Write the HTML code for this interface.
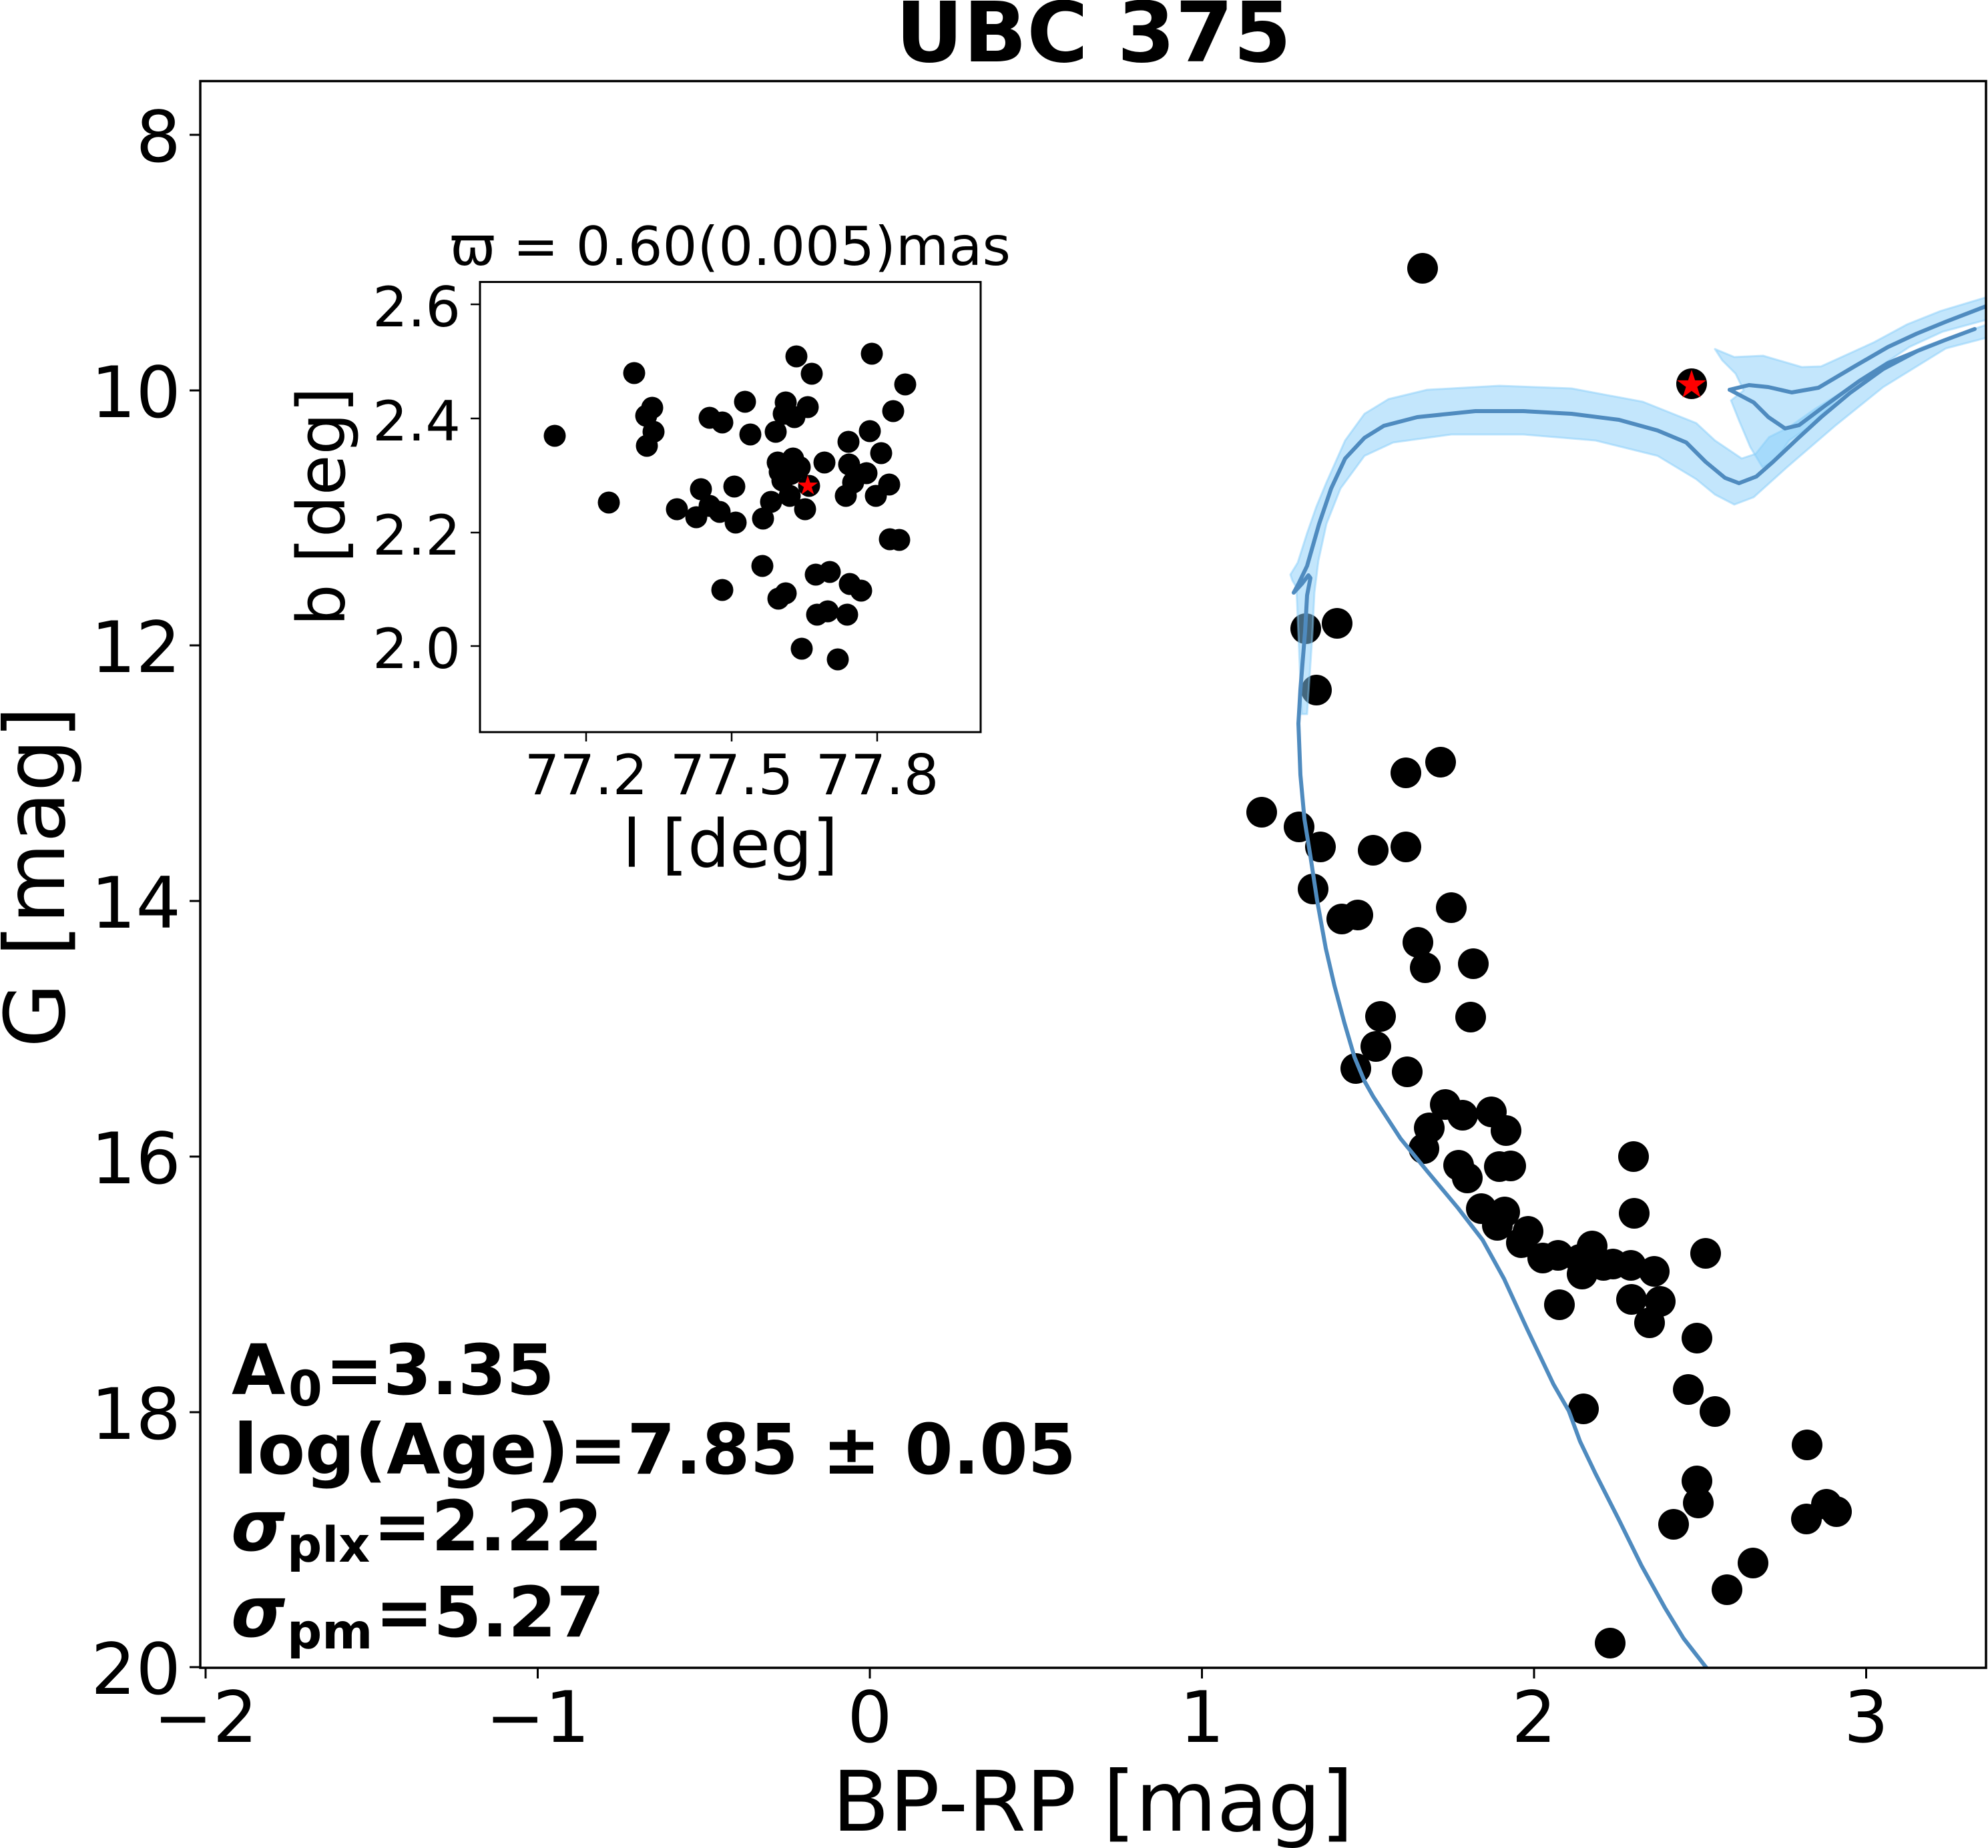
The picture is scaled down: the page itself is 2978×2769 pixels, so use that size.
<!DOCTYPE html>
<html><head><meta charset="utf-8"><style>
html,body{margin:0;padding:0;background:#fff;}
svg{display:block;}
text{font-family:"DejaVu Sans","Liberation Sans",sans-serif;fill:#000;}
</style></head><body>
<svg width="2978" height="2769" viewBox="0 0 2978 2769" xmlns="http://www.w3.org/2000/svg">
<defs>
<clipPath id="cm"><rect x="300" y="121.5" width="2675" height="2377.5"/></clipPath>
</defs>
<rect width="2978" height="2769" fill="#fff"/>

<!-- Title -->
<text x="1638" y="92" font-size="125" font-weight="bold" text-anchor="middle">UBC 375</text>

<!-- Main scatter -->
<g clip-path="url(#cm)" fill="#000">
<circle cx="2131" cy="402" r="23"/><circle cx="2534" cy="575" r="23"/>
<circle cx="1956" cy="942" r="23"/><circle cx="2003" cy="934" r="23"/><circle cx="1972" cy="1034" r="23"/>
<circle cx="2106" cy="1158" r="23"/><circle cx="2158" cy="1142" r="23"/><circle cx="1890" cy="1217" r="23"/>
<circle cx="1946" cy="1239" r="23"/><circle cx="1978" cy="1269" r="23"/><circle cx="2057" cy="1274" r="23"/>
<circle cx="2106" cy="1269" r="23"/><circle cx="1967" cy="1332" r="23"/><circle cx="2010" cy="1377" r="23"/>
<circle cx="2034" cy="1371" r="23"/><circle cx="2174" cy="1360" r="23"/><circle cx="2124" cy="1412" r="23"/>
<circle cx="2135" cy="1450" r="23"/><circle cx="2207" cy="1444" r="23"/><circle cx="2068" cy="1523" r="23"/>
<circle cx="2203" cy="1524" r="23"/><circle cx="2061" cy="1568" r="23"/><circle cx="2031" cy="1601" r="23"/>
<circle cx="2108" cy="1606" r="23"/><circle cx="2165" cy="1655" r="23"/><circle cx="2191" cy="1671" r="23"/>
<circle cx="2234" cy="1666" r="23"/><circle cx="2256" cy="1694" r="23"/><circle cx="2141" cy="1690" r="23"/>
<circle cx="2133" cy="1721" r="23"/><circle cx="2185" cy="1746" r="23"/><circle cx="2198" cy="1765" r="23"/>
<circle cx="2246" cy="1748" r="23"/><circle cx="2263" cy="1747" r="23"/><circle cx="2447" cy="1733" r="23"/>
<circle cx="2448" cy="1818" r="23"/><circle cx="2219" cy="1811" r="23"/><circle cx="2254" cy="1816" r="23"/>
<circle cx="2243" cy="1836" r="23"/><circle cx="2289" cy="1845" r="23"/><circle cx="2279" cy="1862" r="23"/>
<circle cx="2311" cy="1885" r="23"/><circle cx="2334" cy="1881" r="23"/><circle cx="2385" cy="1867" r="23"/>
<circle cx="2370" cy="1909" r="23"/><circle cx="2367" cy="1887" r="23"/><circle cx="2402" cy="1896" r="23"/>
<circle cx="2416" cy="1894" r="23"/><circle cx="2443" cy="1896" r="23"/><circle cx="2478" cy="1905" r="23"/>
<circle cx="2555" cy="1878" r="23"/><circle cx="2336" cy="1955" r="23"/><circle cx="2444" cy="1947" r="23"/>
<circle cx="2487" cy="1950" r="23"/><circle cx="2471" cy="1982" r="23"/><circle cx="2542" cy="2005" r="23"/>
<circle cx="2529" cy="2082" r="23"/><circle cx="2569" cy="2115" r="23"/><circle cx="2372" cy="2111" r="23"/>
<circle cx="2707" cy="2165" r="23"/><circle cx="2542" cy="2219" r="23"/><circle cx="2544" cy="2252" r="23"/>
<circle cx="2507" cy="2284" r="23"/><circle cx="2736" cy="2254" r="23"/><circle cx="2751" cy="2265" r="23"/>
<circle cx="2706" cy="2276" r="23"/><circle cx="2626" cy="2342" r="23"/><circle cx="2587" cy="2382" r="23"/>
<circle cx="2412" cy="2462" r="23"/>
</g>

<!-- Isochrone band -->
<g clip-path="url(#cm)" fill="#87cefa" fill-opacity="0.5" stroke="#87cefa" stroke-opacity="0.5" stroke-width="3" stroke-linejoin="round">
<polygon points="1933,861 1944,843 1958,799 1972,759 1987,723 2015,660 2044,620 2080,598 2138,584 2246,578 2354,582 2461,602 2541,634 2569,660 2609,687 2630,680 2650,655 2680,640 2720,612 2780,575 2830,545 2880,520 2980,485 2980,505 2915,522 2821,580 2749,638 2677,700 2627,745 2598,756 2569,741 2541,718 2483,683 2390,660 2282,651 2174,651 2087,663 2044,683 2008,732 1987,785 1975,840 1969,888 1966,950 1958,1070 1950,1070 1945,950 1942,880 1936,870"/>
<polygon points="2569,523 2598,535 2641,533 2699,550 2728,549 2807,513 2857,486 2907,466 2980,444 2980,478 2910,497 2860,520 2800,560 2750,600 2710,640 2680,660 2660,690 2640,700 2622,670 2605,630 2593,600 2612,585 2600,560 2580,540"/>
</g>

<!-- Isochrone lines -->
<g clip-path="url(#cm)" fill="none" stroke="#4f8bbf" stroke-width="6" stroke-linejoin="round" stroke-linecap="round">
<polyline points="2580,2530 2557,2500 2522,2455 2494,2409 2459,2346 2425,2277 2390,2208 2367,2160 2350,2114 2327,2074 2287,1990 2253,1916 2221,1858 2184,1810 2138,1755 2098,1706 2057,1643 2044,1620 2029,1584 2014,1533 1999,1477 1986,1421 1973,1349 1963,1283 1954,1227 1948,1161 1945,1084 1948,1033 1955,946 1958,892 1963,866 1960,862 1950,875 1938,888 1945,875 1958,848 1976,785 1994,732 2015,687 2044,656 2073,638 2123,625 2210,616 2282,616 2354,620 2425,629 2483,645 2526,663 2555,692 2584,716 2605,724 2631,714 2656,692 2692,658 2728,625 2771,589 2821,553 2872,526 2915,509 2958,493"/>
<polyline points="2591,584 2620,577 2649,580 2684,588 2724,581 2778,549 2828,520 2871,500 2915,482 2985,455"/>
<polyline points="2591,584 2627,603 2649,625 2674,642 2695,637 2735,607 2785,571 2828,544 2872,526"/>
</g>

<!-- Main star -->
<polygon fill="#ff0000" points="2534,554 2539.2,569.9 2555.9,569.9 2542.4,579.7 2547.5,595.6 2534,585.8 2520.5,595.6 2525.6,579.7 2512.1,569.9 2528.8,569.9"/>

<!-- Main axes frame -->
<rect x="300" y="121.5" width="2675" height="2377.5" fill="none" stroke="#000" stroke-width="3.5"/>

<!-- Ticks -->
<g stroke="#000" stroke-width="3">
<line x1="284" y1="202" x2="300" y2="202"/><line x1="284" y1="585" x2="300" y2="585"/>
<line x1="284" y1="967" x2="300" y2="967"/><line x1="284" y1="1350" x2="300" y2="1350"/>
<line x1="284" y1="1733" x2="300" y2="1733"/><line x1="284" y1="2116" x2="300" y2="2116"/>
<line x1="284" y1="2498" x2="300" y2="2498"/>
<line x1="308" y1="2499" x2="308" y2="2515"/><line x1="805.5" y1="2499" x2="805.5" y2="2515"/>
<line x1="1303" y1="2499" x2="1303" y2="2515"/><line x1="1800.5" y1="2499" x2="1800.5" y2="2515"/>
<line x1="2298" y1="2499" x2="2298" y2="2515"/><line x1="2795.5" y1="2499" x2="2795.5" y2="2515"/>
</g>
<g font-size="106" text-anchor="end">
<text x="271" y="242">8</text><text x="271" y="625">10</text><text x="271" y="1007">12</text>
<text x="271" y="1390">14</text><text x="271" y="1773">16</text><text x="271" y="2156">18</text>
<text x="271" y="2538">20</text>
</g>
<g font-size="106" text-anchor="middle">
<text x="308" y="2610">−2</text><text x="805.5" y="2610">−1</text><text x="1303" y="2610">0</text>
<text x="1800.5" y="2610">1</text><text x="2298" y="2610">2</text><text x="2795.5" y="2610">3</text>
</g>

<!-- Axis labels -->
<text x="1637" y="2743" font-size="125" text-anchor="middle">BP-RP [mag]</text>
<text transform="translate(96,1314) rotate(-90)" font-size="125" text-anchor="middle">G [mag]</text>

<!-- Text block -->
<g font-weight="bold" font-size="104">
<text x="347" y="2089">A</text>
<text x="487" y="2089">=3.35</text>
<text x="350" y="2208">log(Age)=7.85 ± 0.05</text>
<text x="346" y="2323" font-style="italic">σ</text>
<text x="559" y="2323">=2.22</text>
<text x="346" y="2452" font-style="italic">σ</text>
<text x="562" y="2452">=5.27</text>
</g>
<g font-size="73" font-weight="bold">
<text x="432" y="2106">0</text>
<text x="430" y="2340">plx</text>
<text x="430" y="2470">pm</text>
</g>

<!-- Inset -->
<rect x="719" y="422.5" width="750" height="674.5" fill="#fff"/>
<g fill="#000">
<circle cx="831" cy="653" r="16.5"/><circle cx="912" cy="753" r="16.5"/><circle cx="950" cy="559" r="16.5"/>
<circle cx="977" cy="611" r="16.5"/><circle cx="968" cy="623" r="16.5"/><circle cx="979" cy="647" r="16.5"/>
<circle cx="969" cy="668" r="16.5"/><circle cx="1014" cy="763" r="16.5"/><circle cx="1043" cy="775" r="16.5"/>
<circle cx="1050" cy="733" r="16.5"/><circle cx="1063" cy="626" r="16.5"/><circle cx="1082" cy="633" r="16.5"/>
<circle cx="1063" cy="758" r="16.5"/><circle cx="1078" cy="767" r="16.5"/><circle cx="1100" cy="729" r="16.5"/>
<circle cx="1102" cy="783" r="16.5"/><circle cx="1124" cy="651" r="16.5"/><circle cx="1143" cy="777" r="16.5"/>
<circle cx="1142" cy="848" r="16.5"/><circle cx="1082" cy="884" r="16.5"/><circle cx="1166" cy="897" r="16.5"/>
<circle cx="1177" cy="889" r="16.5"/><circle cx="1193" cy="534" r="16.5"/><circle cx="1216" cy="560" r="16.5"/>
<circle cx="1201" cy="972" r="16.5"/><circle cx="1255" cy="988" r="16.5"/><circle cx="1224" cy="921" r="16.5"/>
<circle cx="1240" cy="916" r="16.5"/><circle cx="1269" cy="921" r="16.5"/><circle cx="1306" cy="530" r="16.5"/>
<circle cx="1356" cy="576" r="16.5"/><circle cx="1116" cy="602" r="16.5"/><circle cx="1177" cy="603" r="16.5"/>
<circle cx="1210" cy="610" r="16.5"/><circle cx="1174" cy="620" r="16.5"/><circle cx="1190" cy="625" r="16.5"/>
<circle cx="1338" cy="616" r="16.5"/><circle cx="1162" cy="647" r="16.5"/><circle cx="1303" cy="646" r="16.5"/>
<circle cx="1271" cy="662" r="16.5"/><circle cx="1320" cy="679" r="16.5"/><circle cx="1165" cy="693" r="16.5"/>
<circle cx="1188" cy="687" r="16.5"/><circle cx="1198" cy="700" r="16.5"/><circle cx="1235" cy="693" r="16.5"/>
<circle cx="1272" cy="696" r="16.5"/><circle cx="1298" cy="709" r="16.5"/><circle cx="1168" cy="707" r="16.5"/>
<circle cx="1172" cy="720" r="16.5"/><circle cx="1185" cy="710" r="16.5"/><circle cx="1183" cy="743" r="16.5"/>
<circle cx="1212" cy="728" r="16.5"/><circle cx="1155" cy="752" r="16.5"/><circle cx="1206" cy="763" r="16.5"/>
<circle cx="1278" cy="723" r="16.5"/><circle cx="1267" cy="743" r="16.5"/><circle cx="1312" cy="743" r="16.5"/>
<circle cx="1332" cy="726" r="16.5"/><circle cx="1333" cy="808" r="16.5"/><circle cx="1347" cy="809" r="16.5"/>
<circle cx="1222" cy="861" r="16.5"/><circle cx="1243" cy="857" r="16.5"/><circle cx="1273" cy="875" r="16.5"/>
<circle cx="1290" cy="885" r="16.5"/>
</g>
<polygon fill="#ff0000" points="1210,712 1213.6,723.1 1225.2,723.1 1215.8,729.9 1219.4,740.9 1210,734.1 1200.6,740.9 1204.2,729.9 1194.8,723.1 1206.4,723.1"/>
<rect x="719" y="422.5" width="750" height="674.5" fill="none" stroke="#000" stroke-width="3"/>
<g stroke="#000" stroke-width="2.5">
<line x1="705" y1="456" x2="719" y2="456"/><line x1="705" y1="627" x2="719" y2="627"/>
<line x1="705" y1="798" x2="719" y2="798"/><line x1="705" y1="968" x2="719" y2="968"/>
<line x1="878" y1="1097" x2="878" y2="1111"/><line x1="1096" y1="1097" x2="1096" y2="1111"/>
<line x1="1314" y1="1097" x2="1314" y2="1111"/>
</g>
<g font-size="83" text-anchor="end">
<text x="690" y="489">2.6</text><text x="690" y="660">2.4</text>
<text x="690" y="831">2.2</text><text x="690" y="1001">2.0</text>
</g>
<g font-size="83" text-anchor="middle">
<text x="878" y="1190">77.2</text><text x="1096" y="1190">77.5</text><text x="1314" y="1190">77.8</text>
</g>
<text x="1094" y="1299" font-size="99" text-anchor="middle">l [deg]</text>
<text transform="translate(516,759) rotate(-90)" font-size="99" text-anchor="middle">b [deg]</text>
<text x="674" y="397" font-size="80" textLength="840" lengthAdjust="spacingAndGlyphs">ϖ = 0.60(0.005)mas</text>
</svg>
</body></html>
